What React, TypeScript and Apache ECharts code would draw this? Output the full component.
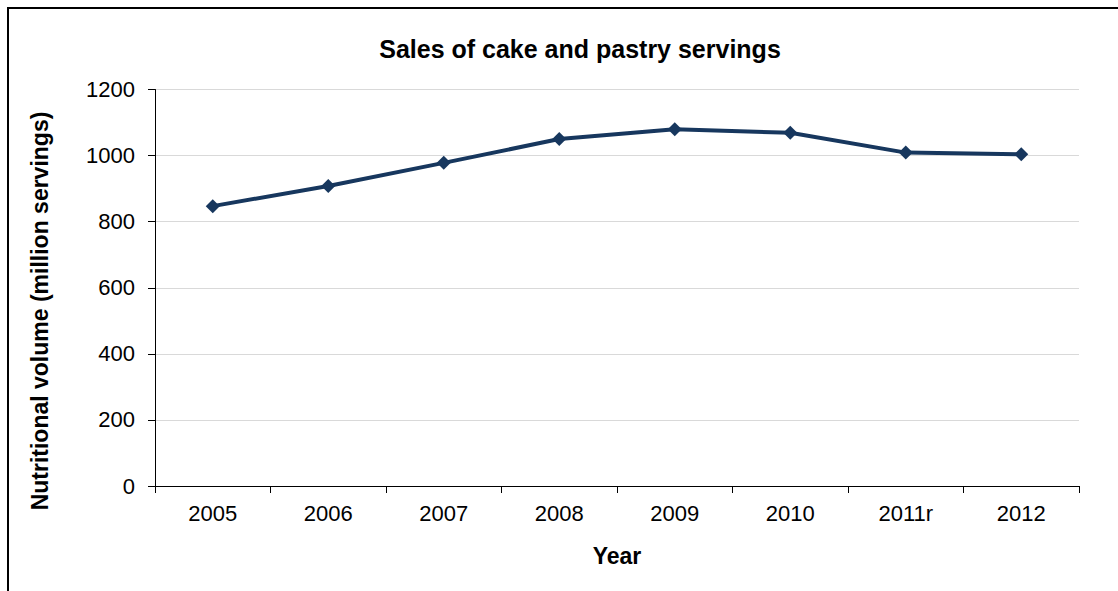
import React, { useEffect, useRef } from "react";
import * as echarts from "echarts";

const years = ["2005", "2006", "2007", "2008", "2009", "2010", "2011r", "2012"];
const servings = [847, 908, 978, 1050, 1080, 1069, 1009, 1004];
const yTicks = [0, 200, 400, 600, 800, 1000, 1200];

const FONT = "'Liberation Sans', Arial, sans-serif";

export default function App() {
  const ref = useRef<HTMLDivElement>(null);
  useEffect(() => {
    if (!ref.current) return;
    const chart = echarts.init(ref.current, null, { renderer: "svg" });
    chart.setOption({
      animation: false,
      backgroundColor: "#ffffff",
      textStyle: { fontFamily: FONT },
      title: {
        text: "Sales of cake and pastry servings",
        left: 575,
        textAlign: "center",
        top: 31,
        textStyle: { fontFamily: FONT, fontSize: 25, fontWeight: "bold", color: "#000" },
      },
      graphic: [
        {
          type: "rect",
          shape: { x: 8, y: 8, width: 1300, height: 800 },
          style: { fill: "none", stroke: "#000", lineWidth: 2 },
          silent: true,
          z: 100,
        },
        {
          type: "text",
          x: 40,
          y: 311,
          rotation: Math.PI / 2,
          style: {
            text: "Nutritional volume (million servings)",
            fontFamily: FONT,
            fontSize: 23,
            fontWeight: "bold",
            fill: "#000",
            textAlign: "center",
            textVerticalAlign: "middle",
          },
          silent: true,
        },
      ],
      grid: { left: 155, right: 39, top: 89.5, bottom: 105, containLabel: false },
      xAxis: {
        type: "category",
        data: years,
        boundaryGap: true,
        name: "Year",
        nameLocation: "middle",
        nameGap: 58,
        nameTextStyle: { fontFamily: FONT, fontSize: 23, fontWeight: "bold", color: "#000" },
        axisLine: { show: true, lineStyle: { color: "#000", width: 1 } },
        axisTick: { show: true, alignWithLabel: false, length: 7, lineStyle: { color: "#000" } },
        axisLabel: { fontFamily: FONT, fontSize: 22, color: "#000", margin: 16 },
        splitLine: { show: false },
      },
      yAxis: {
        type: "value",
        min: yTicks[0],
        max: yTicks[yTicks.length - 1],
        interval: 200,
        axisLine: { show: true, lineStyle: { color: "#000", width: 1 } },
        axisTick: { show: true, length: 7, lineStyle: { color: "#000" } },
        axisLabel: {
          fontFamily: FONT,
          fontSize: 22,
          color: "#000",
          margin: 20,
          formatter: (v: number) => String(v),
        },
        splitLine: { show: true, lineStyle: { color: "#d9d9d9", width: 1 } },
      },
      series: [
        {
          type: "line",
          data: servings,
          symbol: "diamond",
          symbolSize: 14,
          lineStyle: { color: "#17375e", width: 4 },
          itemStyle: { color: "#17375e" },
        },
      ],
    });
    return () => chart.dispose();
  }, []);
  return (
    <div
      ref={ref}
      style={{ position: "fixed", left: 0, top: 0, width: 1118, height: 591 }}
    />
  );
}
